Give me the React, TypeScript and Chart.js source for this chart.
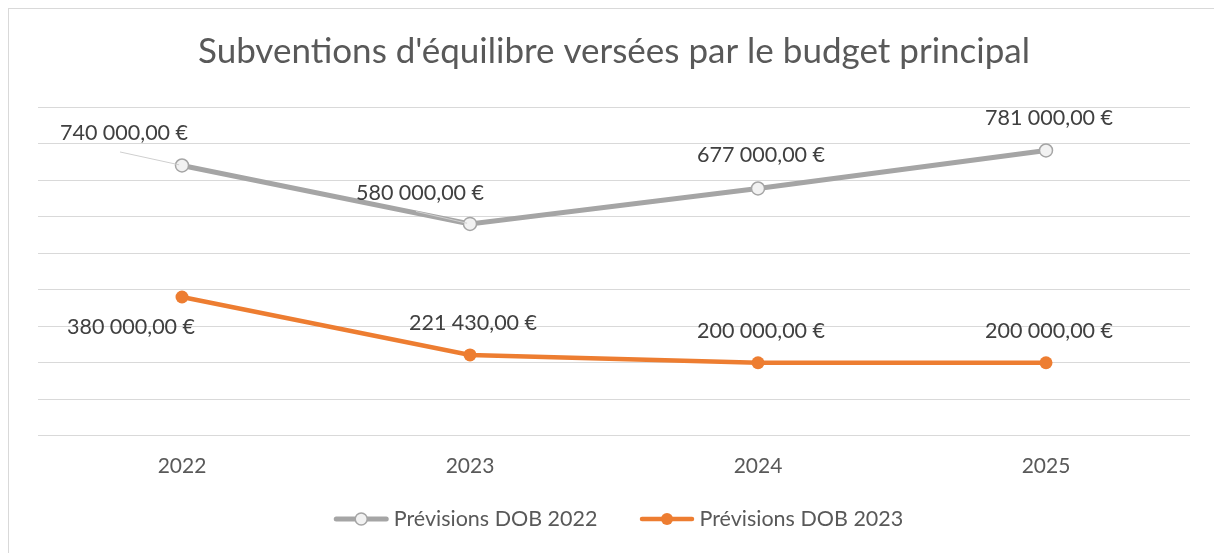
import { useEffect, useRef } from "react";
import { Chart, registerables } from "chart.js";

Chart.register(...registerables);

const title = "Subventions d'équilibre versées par le budget principal";
const categories = ["2022", "2023", "2024", "2025"];
const seriesNames = ["Prévisions DOB 2022", "Prévisions DOB 2023"];
const dob2022 = [740000, 580000, 677000, 781000];
const dob2023 = [380000, 221430, 200000, 200000];
const yMin = 0;
const yMax = 900000;
const yStep = 100000;

// label placement relative to each point (dx, dy) and whether a leader line is drawn
const labelOffsets2022 = [[-58, -32], [-50, -31], [3, -33], [3, -32]];
const labelOffsets2023 = [[-51, 30], [3, -32], [3, -32], [3, -32]];
const leaders2022 = [true, true, false, false];
const leaders2023 = [false, false, false, false];

const FONT = "Lato, 'Open Sans', sans-serif";
const GRAY = "#a5a5a5";
const ORANGE = "#ed7d31";
const TEXT = "#595959";

function fmt(v: number): string {
  const [i, d] = v.toFixed(2).split(".");
  const grouped = i.replace(/\B(?=(\d{3})+(?!\d))/g, " ");
  return grouped + "," + d + " €";
}

const dataLabelsPlugin = {
  id: "dataLabelsCustom",
  afterDatasetsDraw(chart: any) {
    const ctx = chart.ctx;
    const offsets = [labelOffsets2022, labelOffsets2023];
    const leaders = [leaders2022, leaders2023];
    ctx.save();
    chart.data.datasets.forEach((ds: any, di: number) => {
      const meta = chart.getDatasetMeta(di);
      meta.data.forEach((pt: any, i: number) => {
        const [dx, dy] = offsets[di][i];
        const lx = pt.x + dx;
        const ly = pt.y + dy;
        if (leaders[di][i]) {
          const sx = lx - 4;
          const sy = ly + 18.5;
          const ang = Math.atan2(pt.y - sy, pt.x - sx);
          const ex = pt.x - Math.cos(ang) * 3;
          const ey = pt.y - Math.sin(ang) * 3;
          ctx.strokeStyle = "#cfcfcf";
          ctx.lineWidth = 1;
          ctx.beginPath();
          ctx.moveTo(sx, sy);
          ctx.lineTo(ex, ey);
          ctx.stroke();
        }
        ctx.font = `21.5px ${FONT}`;
        ctx.fillStyle = "#404040";
        ctx.textAlign = "center";
        ctx.textBaseline = "middle";
        ctx.fillText(fmt(ds.data[i]), lx, ly);
      });
    });
    ctx.restore();
  },
};

const legendPlugin = {
  id: "lineMarkerLegend",
  afterDraw(chart: any) {
    const ctx = chart.ctx;
    const ds = chart.data.datasets;
    const markerW = 55;
    const textGap = 5;
    const itemGap = 42;
    const cy = 510;
    ctx.save();
    ctx.font = `21.5px ${FONT}`;
    const widths = ds.map((d: any) => ctx.measureText(d.label).width);
    const total = widths.reduce((a: number, w: number) => a + markerW + textGap + w, 0) + itemGap * (ds.length - 1);
    let x = 609.5 - total / 2;
    ds.forEach((d: any, i: number) => {
      ctx.strokeStyle = d.borderColor;
      ctx.lineWidth = d.borderWidth;
      ctx.lineCap = "round";
      ctx.beginPath();
      ctx.moveTo(x + 2.5, cy);
      ctx.lineTo(x + markerW - 2.5, cy);
      ctx.stroke();
      ctx.beginPath();
      ctx.arc(x + markerW / 2, cy, 6, 0, Math.PI * 2);
      ctx.fillStyle = d.pointBackgroundColor;
      ctx.fill();
      if (d.pointBorderWidth > 0) {
        ctx.lineWidth = d.pointBorderWidth;
        ctx.strokeStyle = d.pointBorderColor;
        ctx.stroke();
      }
      ctx.fillStyle = TEXT;
      ctx.textAlign = "left";
      ctx.textBaseline = "middle";
      ctx.fillText(d.label, x + markerW + textGap, cy);
      x += markerW + textGap + widths[i] + itemGap;
    });
    ctx.restore();
  },
};

export default function App() {
  const ref = useRef<HTMLCanvasElement | null>(null);

  useEffect(() => {
    if (!ref.current) return;
    const chart = new Chart(ref.current, {
      type: "line",
      data: {
        labels: categories,
        datasets: [
          {
            label: seriesNames[0],
            data: dob2022,
            borderColor: GRAY,
            borderWidth: 5,
            pointRadius: 6.5,
            pointBackgroundColor: "#f2f2f2",
            pointBorderColor: GRAY,
            pointBorderWidth: 1.5,
            tension: 0,
          },
          {
            label: seriesNames[1],
            data: dob2023,
            borderColor: ORANGE,
            borderWidth: 4.5,
            pointRadius: 6.5,
            pointBackgroundColor: ORANGE,
            pointBorderColor: ORANGE,
            pointBorderWidth: 0,
            tension: 0,
          },
        ],
      },
      options: {
        responsive: false,
        animation: false,
        devicePixelRatio: 1,
        layout: { padding: { left: 29, right: 24, top: 0, bottom: 64 } },
        plugins: {
          title: {
            display: true,
            text: title,
            color: TEXT,
            font: { family: FONT, size: 35, weight: "normal" },
            padding: { top: 22, bottom: 34 },
          },
          legend: { display: false },
          tooltip: { enabled: false },
        },
        scales: {
          x: {
            offset: true,
            grid: { display: false },
            border: { display: false },
            ticks: { color: TEXT, font: { family: FONT, size: 21 }, padding: 10 },
          },
          y: {
            min: yMin,
            max: yMax,
            ticks: { display: false, stepSize: yStep },
            grid: { color: "#d9d9d9", lineWidth: 1, drawTicks: false },
            border: { display: false },
          },
        },
      },
      plugins: [dataLabelsPlugin, legendPlugin],
    });
    return () => chart.destroy();
  }, []);

  return (
    <div
      style={{
        position: "fixed",
        left: 8,
        top: 8,
        width: 1206,
        height: 545,
        borderTop: "1px solid #d9d9d9",
        borderLeft: "1px solid #d9d9d9",
        boxSizing: "border-box",
        background: "#fff",
      }}
    >
      <canvas ref={ref} width={1205} height={544} style={{ display: "block", width: 1205, height: 544 }} />
    </div>
  );
}
